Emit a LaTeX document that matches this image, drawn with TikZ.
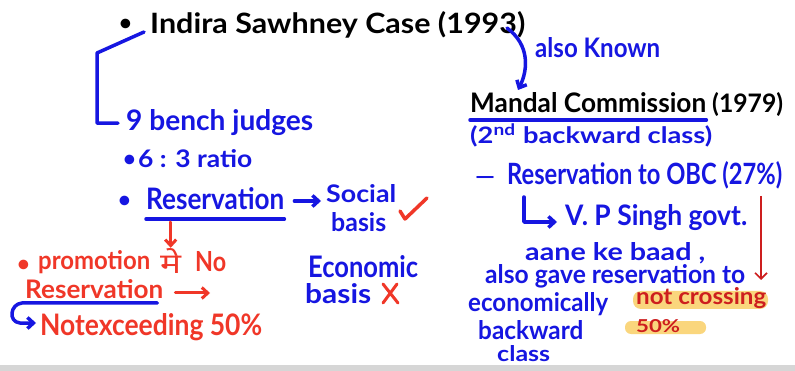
\documentclass[tikz,border=0pt]{standalone}
\usepackage{fontspec}
\setmainfont{Lato}
\newfontfamily\devfont[Script=Devanagari]{Noto Sans}
\usetikzlibrary{arrows.meta}
\definecolor{pen}{RGB}{22,22,225}
\definecolor{rpen}{RGB}{240,55,40}
\definecolor{dred}{RGB}{205,30,30}
\definecolor{hl}{RGB}{250,214,125}
\definecolor{band}{RGB}{214,214,214}
\newcommand\fw[3]{\resizebox{#1pt}{#2pt}{#3}}
\tikzset{
  txt/.style={inner sep=0pt, anchor=base west, font=\bfseries},
  blk/.style={txt, text=black},
  blu/.style={txt, text=pen},
  red/.style={txt, text=rpen},
  dot/.style={txt, font=\bfseries\fontsize{22}{24}\selectfont},
  bline/.style={draw=pen, line width=3.5pt, line cap=round, line join=round},
  rline/.style={draw=rpen, line width=3pt, line cap=round, line join=round},
  barrow/.style={bline, -{Straight Barb[length=6pt,width=11pt]}},
  rarrow/.style={rline, -{Straight Barb[length=6pt,width=11pt]}},
  darrow/.style={draw=dred, line width=1.6pt, -{Straight Barb[length=6pt,width=12pt,line width=1.6pt]}},
  hlbox/.style={fill=hl, rounded corners=8pt, draw=none}
}
\begin{document}
\begin{tikzpicture}[x=1pt,y=-1pt]
\useasboundingbox (0,0) rectangle (795,371);
\fill[white] (0,0) rectangle (795,371);
\fill[band] (0,365) rectangle (795,371);

% highlights
\fill[hlbox] (633,291) rectangle (768,309);
\fill[hlbox, rounded corners=6pt] (625,321) rectangle (706,334);

% title
\node[dot, text=black] (b1) at (119,31) {•};
\node[blk] (ind) at (150,34) {\fw{375}{22}{Indira Sawhney Case (1993)}};

% left column
\node[blu] (bench) at (126,131) {\fw{187}{21}{9 bench judges}};
\node[dot, text=pen] (b2) at (123,167) {•};
\node[blu] (ratio) at (138,168) {\fw{114}{18}{6 : 3 ratio}};
\node[dot, text=pen] (b3) at (118,208) {•};
\node[blu] (res) at (146,210) {\fw{138}{22}{Reservation}};
\node[blu] (social) at (326,203) {\fw{70}{18}{Social}};
\node[blu] (sbasis) at (331,232) {\fw{55}{19}{basis}};
\node[blu] (econ) at (308,277) {\fw{110}{22}{Economic}};
\node[blu] (ebasis) at (305,303) {\fw{66}{20}{basis}};

\node[dot, text=rpen] (b4) at (17,272) {•};
\node[red] (promo) at (38,270) {\fw{112}{19}{promotion}};
\node[txt, text=rpen, font=\devfont\bfseries] (me) at (160,273) {\fw{21}{25}{मे}};
\node[red] (no) at (195,272) {\fw{31}{20}{No}};
\node[red] (rres) at (25,299) {\fw{138}{19}{Reservation}};
\node[red] (notex) at (40,335) {\fw{222}{22}{Notexceeding 50\%}};
\coordinate (rtip) at (210,293);

% right column
\node[blu] (aka) at (535,58) {\fw{125}{20}{also Known}};
\node[blk] (mandal) at (470,113) {\fw{236}{20}{Mandal Commission}};
\node[blk] (yr) at (712,113) {\fw{71}{20}{(1979)}};
\node[blu] (second) at (470,144) {\fw{242}{20}{(2\textsuperscript{nd} backward class)}};
\node[blu] (dash) at (475,185) {\fw{20}{8}{—}};
\node[blu] (obc) at (507,185) {\fw{275}{23}{Reservation to OBC (27\%)}};
\node[blu] (vp) at (565,226) {\fw{182}{21}{V. P Singh govt.}};
\node[blu] (aane) at (525,261) {\fw{180}{18}{aane ke baad ,}};
\node[blu] (gave) at (485,284) {\fw{260}{19}{also gave reservation to}};
\node[blu] (eco) at (468,312) {\fw{140}{19}{economically}};
\node[blu] (back) at (478,339) {\fw{105}{19}{backward}};
\node[blu] (cls) at (497,361) {\fw{53}{16}{class}};
\node[txt, text=dred] (notc) at (636,305) {\fw{130}{17}{not crossing}};
\node[txt, text=dred] (fifty) at (636,333) {\fw{44}{13}{50\%}};

% connectors
\draw[bline] (144,32) -- (97,53) |- ([xshift=-8pt]bench.west);
\draw[bline] ([yshift=-9pt]res.base west) -- ([yshift=-9pt]res.base east);
\coordinate (a1) at ([xshift=10pt,yshift=9pt]res.base east);
\draw[barrow] (a1) -- ([xshift=-5pt]a1 -| social.west);
\draw[rarrow] (me.north |- res.base) ++(0,12) -- (me.north);
\draw[rarrow] ([xshift=12pt,yshift=6pt]rres.base east) -- (rtip);
\draw[barrow] ([xshift=-6pt,yshift=-4pt]rres.base east) -- (22,303)
   .. controls (10,304) and (8,322) .. (20,323) -- ([xshift=-4pt,yshift=12pt]notex.base west);
\draw[barrow] (507,28) .. controls (530,45) and (528,70) .. (518,90);
\draw[bline] ([yshift=-7pt]mandal.base west) -- ([yshift=-7pt]mandal.base east);
\draw[barrow] (524,197) |- ([xshift=-8pt,yshift=4pt]vp.base west);
\draw[darrow] (761,196) -- (761,280);

% check and cross
\draw[rline, line width=3.5pt] (400,211) -- (405,219) -- (427,198);
\draw[rline] (383,284) -- (398,303) (397,284) -- (383,303);
\end{tikzpicture}
\end{document}
